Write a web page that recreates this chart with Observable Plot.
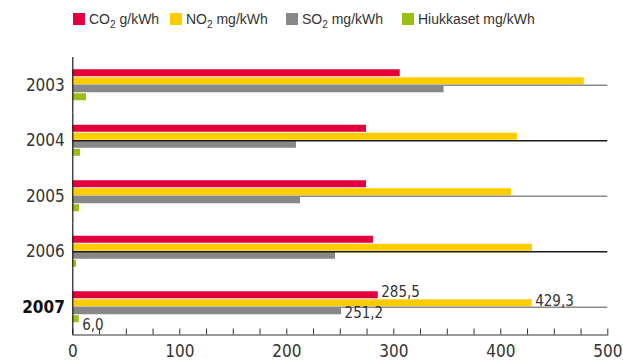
<!DOCTYPE html>
<html><head><meta charset="utf-8">
<script src="https://cdn.jsdelivr.net/npm/d3@7"></script>
<script src="https://cdn.jsdelivr.net/npm/@observablehq/plot@0.6"></script>
<style>
body{margin:0;background:#fff;font-family:"Liberation Sans",Arial,sans-serif;}
#legend{position:relative;height:40px;width:623px;}
.item{position:absolute;top:11px;height:16px;display:flex;align-items:center;font-size:14px;color:#333;white-space:nowrap;}
.sw{width:12px;height:12px;margin-right:4px;flex:none;}
.sub{font-size:10px;position:relative;top:4px;}
</style></head><body>
<div id="legend"></div><div id="chart"></div>
<script>
const years = [2003, 2004, 2005, 2006, 2007];
const seriesKeys = ["CO2", "NO2", "SO2", "PM"];
const seriesNames = [["CO", "2", " g/kWh"], ["NO", "2", " mg/kWh"], ["SO", "2", " mg/kWh"], ["Hiukkaset mg/kWh", "", ""]];
const co2 = [306, 274.5, 274.5, 281, 285.5];
const no2 = [478, 415.6, 410, 429.6, 429.3];
const so2 = [347, 209, 212.8, 245.5, 251.2];
const pm = [12.8, 7.2, 6.3, 3.5, 6.0];
const labelledYear = 2007;
const xTicks = d3.range(0, 501, 25);
const colors = ["#e4003c", "#ffcc00", "#888888", "#99bf14"];

const valuesBySeries = [co2, no2, so2, pm];
const rows = [];
years.forEach((year, i) => seriesKeys.forEach((s, k) => rows.push({year, series: s, value: valuesBySeries[k][i]})));

// legend
const legendX = [73, 170, 286, 402];
const legend = document.getElementById("legend");
seriesKeys.forEach((s, k) => {
  const it = document.createElement("div");
  it.className = "item";
  it.style.left = legendX[k] + "px";
  const [a, sub, b] = seriesNames[k];
  it.innerHTML = `<span class="sw" style="background:${colors[k]}"></span><span>${a}${sub ? `<span class="sub">${sub}</span>` : ""}${b}</span>`;
  legend.appendChild(it);
});

const fmt = v => v.toFixed(1).replace(".", ",");
const labelDy = [-3, -2, 2, 6];
const narrow = '"Liberation Sans Narrow","DejaVu Sans Condensed","Liberation Sans",sans-serif';

const chart = Plot.plot({
  width: 623,
  height: 321,
  marginTop: 17,
  marginBottom: 26.5,
  marginLeft: 72.3,
  marginRight: 15.7,
  style: {fontFamily: narrow, fontSize: "17px", color: "#333", background: "white"},
  facet: {data: rows, y: "year"},
  fy: {domain: years, padding: 0, axis: null, round: false},
  y: {domain: seriesKeys, paddingInner: 0.125, paddingOuter: 1.53125, axis: null, round: false},
  x: {domain: [0, 500], ticks: xTicks, tickSize: -6, tickPadding: 16, tickFormat: d => d % 100 === 0 ? String(d) : "", line: true, label: null},
  color: {domain: seriesKeys, range: colors},
  marks: [
    Plot.barX(rows, {x: "value", y: "series", fill: "series"}),
    Plot.ruleY(rows, {filter: d => d.series === "SO2" && years.indexOf(d.year) % 2 === 0, y: "series", dy: -4, stroke: "#8a8a8a", strokeWidth: 1.6}),
    Plot.ruleY(rows, {filter: d => d.series === "SO2" && years.indexOf(d.year) % 2 === 1, y: "series", dy: -4, stroke: "#1a1a1a", strokeWidth: 1.4}),
    Plot.ruleX([0], {stroke: "#1a1a1a", strokeWidth: 1.2}),
    Plot.text(rows, {filter: d => d.series === "CO2" && d.year !== labelledYear, text: d => String(d.year), frameAnchor: "left", textAnchor: "end", dx: -8, fill: "#333", fontSize: 17}),
    Plot.text(rows, {filter: d => d.series === "CO2" && d.year === labelledYear, text: d => String(d.year), frameAnchor: "left", textAnchor: "end", dx: -8, fill: "#111", fontSize: 17, fontWeight: "bold"}),
    ...seriesKeys.map((s, k) => Plot.text(rows, {filter: d => d.year === labelledYear && d.series === s, x: "value", y: "series", text: d => fmt(d.value), textAnchor: "start", dx: 3, dy: labelDy[k], fill: "#333", fontSize: 15}))
  ]
});
document.getElementById("chart").appendChild(chart);
</script>
</body></html>
